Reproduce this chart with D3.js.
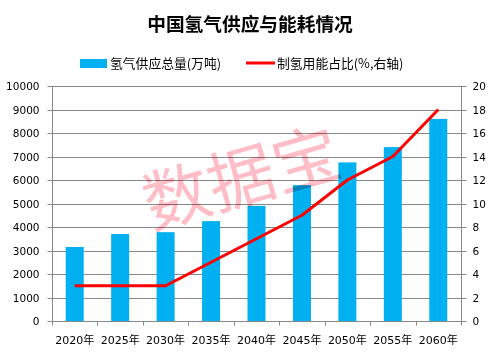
<!DOCTYPE html>
<html><head><meta charset="utf-8">
<script src="https://cdn.jsdelivr.net/npm/d3@7"></script>
<style>body{margin:0;background:#fff}svg{display:block}</style>
</head><body>
<svg id="c" width="492" height="352"></svg>
<script>
const categories = ["2020年","2025年","2030年","2035年","2040年","2045年","2050年","2055年","2060年"];
const supply = [3150, 3700, 3780, 4250, 4900, 5780, 6750, 7400, 8600];
const share = [3, 3, 3, 5, 7, 9, 12, 14, 18];
const leftTicks = [0,1000,2000,3000,4000,5000,6000,7000,8000,9000,10000];
const rightTicks = [0,2,4,6,8,10,12,14,16,18,20];
const title = "中国氢气供应与能耗情况";
const legendLabels = ["氢气供应总量(万吨)", "制氢用能占比(%,右轴)"];

const svg = d3.select("#c");
const L = 52, R = 461, T = 86, B = 321;
const xb = d3.scaleBand().domain(categories).range([L, R]);
const yL = d3.scaleLinear().domain([0, 10000]).range([B, T]);
const yR = d3.scaleLinear().domain([0, 20]).range([B, T]);
const gray = "#888888";
const numFont = "DejaVu Sans, sans-serif";

// gridlines
svg.append("g").selectAll("line").data(leftTicks).join("line")
  .attr("x1", L).attr("x2", R).attr("y1", d => Math.round(yL(d)) + 0.5).attr("y2", d => Math.round(yL(d)) + 0.5)
  .attr("stroke", gray).attr("stroke-width", 1);

// bars
svg.append("g").selectAll("rect").data(supply).join("rect")
  .attr("x", (d, i) => xb(categories[i]) + xb.bandwidth() / 2 - 9)
  .attr("width", 18)
  .attr("y", d => yL(d)).attr("height", d => B - yL(d))
  .attr("fill", "#00b0f0");

// watermark
svg.append("text").text("数据宝")
  .attr("transform", "translate(243,184) rotate(-16)")
  .attr("text-anchor", "middle").attr("dominant-baseline", "middle")
  .attr("font-family", "Noto Sans CJK SC").attr("font-weight", 400).attr("font-size", 67)
  .attr("fill", "#ffb3bd").attr("fill-opacity", 0.85)
  .style("mix-blend-mode", "multiply");

// left axis
const gL = svg.append("g").attr("transform", `translate(${L + 0.5},0)`)
  .call(d3.axisLeft(yL).tickValues(leftTicks).tickSize(5).tickPadding(8).tickFormat(d3.format("d")));
// right axis
const gR = svg.append("g").attr("transform", `translate(${R + 0.5},0)`)
  .call(d3.axisRight(yR).tickValues(rightTicks).tickSize(5).tickPadding(6).tickFormat(d3.format("d")));
[gL, gR].forEach(g => {
  g.select(".domain").attr("stroke", gray).attr("d", `M0,${T}V${B}`);
  g.selectAll(".tick line").attr("stroke", gray);
  g.selectAll(".tick text").attr("font-family", numFont).attr("font-size", 10.5).attr("fill", "#000");
});
gL.selectAll(".tick").attr("transform", d => `translate(0,${Math.round(yL(d)) + 0.5})`);
gR.selectAll(".tick").attr("transform", d => `translate(0,${Math.round(yR(d)) + 0.5})`);

// x axis
const gX = svg.append("g").attr("transform", `translate(0,${B + 0.5})`);
gX.append("line").attr("x1", L).attr("x2", R + 1).attr("stroke", gray);
gX.selectAll("line.t").data(d3.range(categories.length + 1)).join("line").attr("class", "t")
  .attr("x1", i => Math.round(L + i * xb.step()) + 0.5).attr("x2", i => Math.round(L + i * xb.step()) + 0.5)
  .attr("y1", 0).attr("y2", 4).attr("stroke", gray);
gX.selectAll("text").data(categories).join("text")
  .attr("x", d => xb(d) + xb.bandwidth() / 2).attr("y", 22)
  .attr("text-anchor", "middle").attr("font-family", numFont + ", Noto Sans CJK SC").attr("font-size", 11)
  .text(d => d);

// line
svg.append("path").datum(share)
  .attr("d", d3.line().x((d, i) => xb(categories[i]) + xb.bandwidth() / 2).y(d => yR(d)))
  .attr("fill", "none").attr("stroke", "#ff0000").attr("stroke-width", 3).attr("stroke-linejoin", "round");

// title
svg.append("text").text(title).attr("x", 250).attr("y", 31).attr("text-anchor", "middle")
  .attr("font-family", "Noto Sans CJK SC").attr("font-weight", "bold").attr("font-size", 18.7).attr("fill", "#000");

// legend
svg.append("rect").attr("x", 80).attr("y", 59).attr("width", 27).attr("height", 9).attr("fill", "#00b0f0");
svg.append("text").text(legendLabels[0]).attr("x", 110).attr("y", 67.5)
  .attr("font-family", "Noto Sans CJK SC").attr("font-size", 12.8).attr("fill", "#000");
svg.append("line").attr("x1", 246).attr("x2", 275).attr("y1", 63).attr("y2", 63).attr("stroke", "#ff0000").attr("stroke-width", 3);
svg.append("text").text(legendLabels[1]).attr("x", 277).attr("y", 67.5)
  .attr("font-family", "Noto Sans CJK SC").attr("font-size", 12.8).attr("fill", "#000");
</script>
</body></html>
